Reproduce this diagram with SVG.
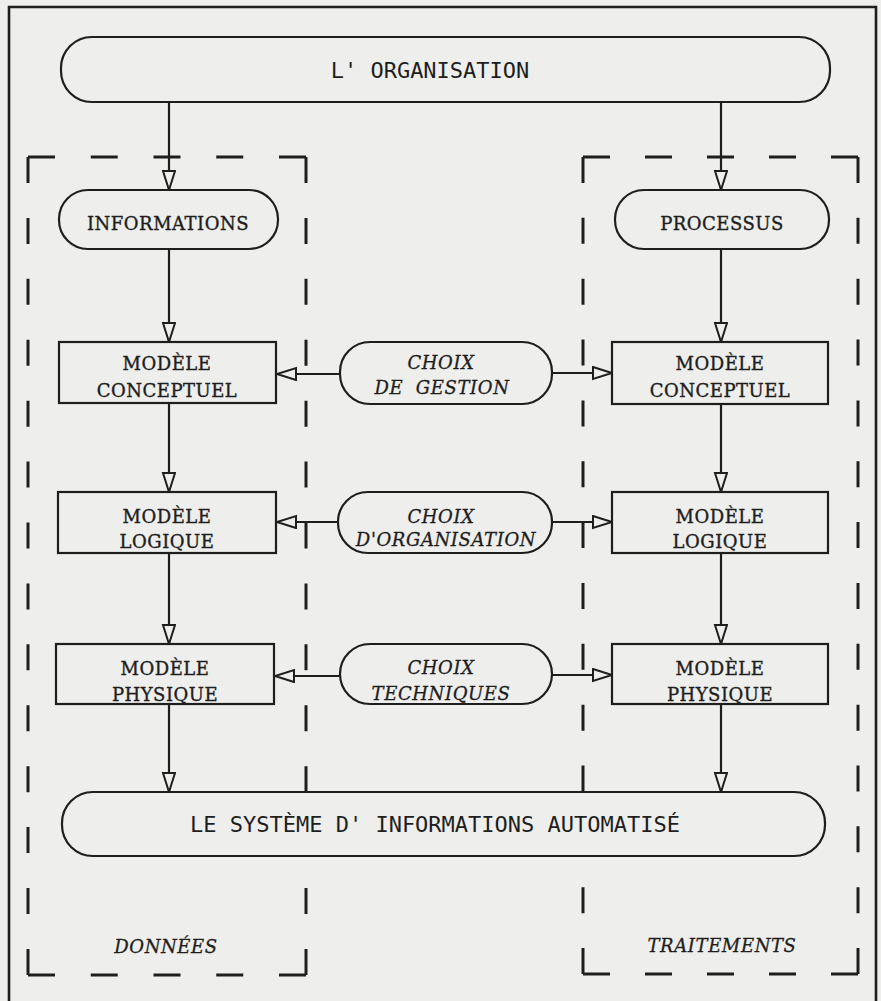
<svg xmlns="http://www.w3.org/2000/svg" width="881" height="1001" viewBox="0 0 881 1001">
<style>
.bg{fill:#eeeeec}
.box{fill:#eeeeec;stroke:#1e1e1e;stroke-width:2.2}
.frame{fill:none;stroke:#1e1e1e;stroke-width:2.6}
.dash{fill:none;stroke:#1e1e1e;stroke-width:3}
.conn{fill:none;stroke:#1e1e1e;stroke-width:2.2;marker-end:url(#ah)}
.big{font-family:"DejaVu Sans Mono","Liberation Mono",monospace;font-size:22px;fill:#1e1e1e;text-anchor:middle}
.lab{font-family:"DejaVu Serif","Liberation Serif",serif;font-size:18px;letter-spacing:0.5px;fill:#1e1e1e;stroke:#1e1e1e;stroke-width:0.35;text-anchor:middle}
.it{font-family:"DejaVu Serif","Liberation Serif",serif;font-size:18px;letter-spacing:0.6px;font-style:italic;fill:#1e1e1e;stroke:#1e1e1e;stroke-width:0.3;text-anchor:middle}
</style>
<defs>
<marker id="ah" markerUnits="userSpaceOnUse" markerWidth="24" markerHeight="18" refX="20" refY="7" orient="auto">
<path d="M1,1 L20,7 L1,13 Z" fill="#eeeeec" stroke="#1e1e1e" stroke-width="2"/>
</marker>
</defs>
<rect class="bg" x="0" y="0" width="881" height="1001"/>
<path class="frame" d="M9,1001 V7 H876 V1001"/>

<g id="bracket-donnees">
<line class="dash" x1="28" y1="157" x2="306" y2="157" stroke-dasharray="27 35.75"/>
<line class="dash" x1="28" y1="157" x2="28" y2="975" stroke-dasharray="26 34.92"/>
<line class="dash" x1="306" y1="157" x2="306" y2="975" stroke-dasharray="26 34.92"/>
<line class="dash" x1="28" y1="975" x2="306" y2="975" stroke-dasharray="27 35.75"/>
<text class="it" x="166" y="953">DONNÉES</text>
</g>
<g id="bracket-traitements">
<line class="dash" x1="583" y1="157" x2="858" y2="157" stroke-dasharray="27 35"/>
<line class="dash" x1="583" y1="157" x2="583" y2="974" stroke-dasharray="26 34.85"/>
<line class="dash" x1="858" y1="157" x2="858" y2="974" stroke-dasharray="26 34.85"/>
<line class="dash" x1="583" y1="974" x2="858" y2="974" stroke-dasharray="27 35"/>
<text class="it" x="722" y="952">TRAITEMENTS</text>
</g>

<g id="connectors">
<line class="conn" x1="169" y1="102" x2="169" y2="190"/>
<line class="conn" x1="169" y1="249" x2="169" y2="342"/>
<line class="conn" x1="169" y1="403" x2="169" y2="492"/>
<line class="conn" x1="169" y1="553" x2="169" y2="644"/>
<line class="conn" x1="169" y1="704" x2="169" y2="792"/>
<line class="conn" x1="721" y1="102" x2="721" y2="190"/>
<line class="conn" x1="721" y1="249" x2="721" y2="342"/>
<line class="conn" x1="721" y1="404" x2="721" y2="492"/>
<line class="conn" x1="721" y1="553" x2="721" y2="644"/>
<line class="conn" x1="721" y1="704" x2="721" y2="792"/>
<line class="conn" x1="340" y1="374" x2="277" y2="374"/>
<line class="conn" x1="552" y1="373" x2="612" y2="373"/>
<line class="conn" x1="338" y1="522" x2="277" y2="522"/>
<line class="conn" x1="552" y1="522" x2="612" y2="522"/>
<line class="conn" x1="340" y1="676" x2="275" y2="676"/>
<line class="conn" x1="552" y1="675" x2="612" y2="675"/>
</g>

<g id="organisation">
<rect class="box" x="61" y="37" width="769" height="65" rx="31" ry="31"/>
<text class="big" x="430" y="78">L' ORGANISATION</text>
</g>
<g id="informations">
<rect class="box" x="59" y="190" width="219" height="59" rx="29" ry="29"/>
<text class="lab" x="168" y="230">INFORMATIONS</text>
</g>
<g id="processus">
<rect class="box" x="615" y="190" width="214" height="59" rx="29" ry="29"/>
<text class="lab" x="722" y="230">PROCESSUS</text>
</g>

<g id="mc-donnees">
<rect class="box" x="59" y="342" width="217" height="61"/>
<text class="lab" x="167" y="370">MODÈLE</text>
<text class="lab" x="167" y="397">CONCEPTUEL</text>
</g>
<g id="choix-gestion">
<rect class="box" x="340" y="342" width="212" height="62" rx="30" ry="30"/>
<text class="it" x="441" y="369">CHOIX</text>
<text class="it" x="442" y="394" xml:space="preserve">DE  GESTION</text>
</g>
<g id="mc-traitements">
<rect class="box" x="612" y="342" width="216" height="62"/>
<text class="lab" x="720" y="370">MODÈLE</text>
<text class="lab" x="720" y="397">CONCEPTUEL</text>
</g>

<g id="ml-donnees">
<rect class="box" x="58" y="492" width="218" height="61"/>
<text class="lab" x="167" y="523">MODÈLE</text>
<text class="lab" x="167" y="548">LOGIQUE</text>
</g>
<g id="choix-organisation">
<rect class="box" x="338" y="492" width="214" height="61" rx="30" ry="30"/>
<text class="it" x="441" y="523">CHOIX</text>
<text class="it" x="446" y="546">D'ORGANISATION</text>
</g>
<g id="ml-traitements">
<rect class="box" x="612" y="492" width="216" height="61"/>
<text class="lab" x="720" y="523">MODÈLE</text>
<text class="lab" x="720" y="548">LOGIQUE</text>
</g>

<g id="mp-donnees">
<rect class="box" x="56" y="644" width="218" height="60"/>
<text class="lab" x="165" y="675">MODÈLE</text>
<text class="lab" x="165" y="701">PHYSIQUE</text>
</g>
<g id="choix-techniques">
<rect class="box" x="340" y="644" width="212" height="60" rx="30" ry="30"/>
<text class="it" x="441" y="674">CHOIX</text>
<text class="it" x="441" y="700">TECHNIQUES</text>
</g>
<g id="mp-traitements">
<rect class="box" x="612" y="644" width="216" height="60"/>
<text class="lab" x="720" y="675">MODÈLE</text>
<text class="lab" x="720" y="701">PHYSIQUE</text>
</g>

<g id="systeme">
<rect class="box" x="62" y="792" width="763" height="64" rx="31" ry="31"/>
<text class="big" x="435" y="832">LE SYSTÈME D' INFORMATIONS AUTOMATISÉ</text>
</g>
</svg>
